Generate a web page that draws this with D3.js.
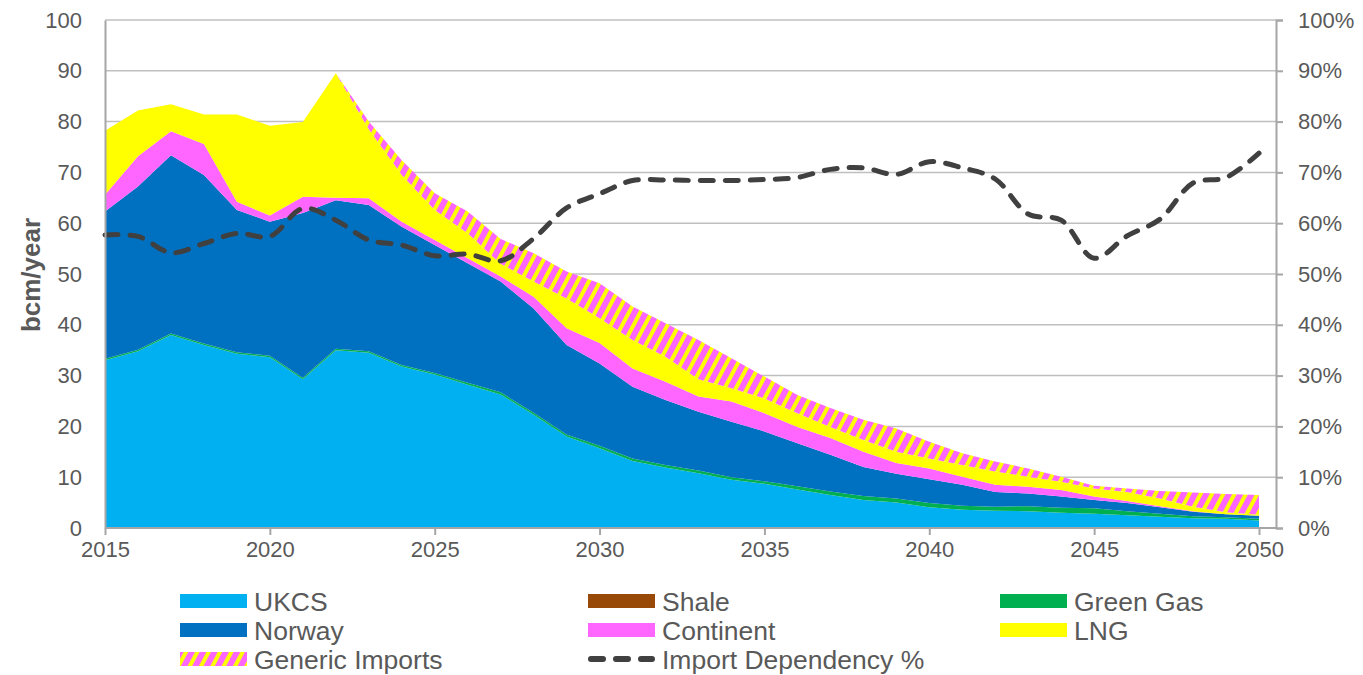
<!DOCTYPE html>
<html>
<head>
<meta charset="utf-8">
<script src="https://cdn.jsdelivr.net/npm/d3@7"></script>
<style>
  body { margin: 0; background: #fff; }
  svg { display: block; }
  text { font-family: "Liberation Sans", Arial, sans-serif; fill: #595959; }
</style>
</head>
<body>
<svg id="chart" width="1363" height="675"></svg>
<script>
// Gas supply by source (bcm/year) and import dependency (%), 2015-2050
const years = [2015, 2016, 2017, 2018, 2019, 2020, 2021, 2022, 2023, 2024,
               2025, 2026, 2027, 2028, 2029, 2030, 2031, 2032, 2033, 2034,
               2035, 2036, 2037, 2038, 2039, 2040, 2041, 2042, 2043, 2044,
               2045, 2046, 2047, 2048, 2049, 2050];

const ukcs = [33.0, 34.8, 38.0, 36.0, 34.3, 33.6, 29.3, 35.0, 34.5, 31.8,
              30.2, 28.2, 26.3, 22.3, 18.0, 15.7, 13.2, 11.9, 10.8, 9.5,
              8.7, 7.6, 6.5, 5.5, 5.0, 4.1, 3.6, 3.4, 3.3, 3.0,
              2.8, 2.5, 2.2, 1.9, 1.8, 1.5];
const shale = [0, 0, 0, 0, 0, 0, 0, 0, 0, 0,
               0, 0, 0, 0, 0, 0, 0, 0, 0, 0,
               0, 0, 0, 0, 0, 0, 0, 0, 0, 0,
               0, 0, 0, 0, 0, 0];
const greenGas = [0.3, 0.3, 0.3, 0.3, 0.3, 0.3, 0.3, 0.3, 0.3, 0.3,
                  0.3, 0.4, 0.4, 0.4, 0.4, 0.5, 0.5, 0.5, 0.5, 0.5,
                  0.5, 0.6, 0.7, 0.8, 0.8, 0.8, 0.8, 0.8, 1.0, 1.0,
                  1.1, 0.8, 0.6, 0.4, 0.3, 0.3];
const norway = [29.0, 32.1, 35.1, 33.2, 28.0, 26.4, 32.4, 29.2, 28.8, 27.2,
                25.2, 23.5, 21.8, 20.5, 17.6, 16.2, 14.1, 12.8, 11.6, 10.9,
                9.8, 8.5, 7.2, 5.7, 4.9, 4.7, 4.1, 2.9, 2.5, 2.2,
                1.6, 1.6, 1.3, 0.9, 0.6, 0.6];
const continent = [3.3, 6.0, 4.7, 6.1, 1.6, 1.2, 3.2, 0.5, 1.3, 1.0,
                   1.0, 1.0, 1.0, 2.3, 3.3, 4.0, 3.6, 3.6, 3.0, 4.0,
                   3.6, 3.2, 3.3, 3.0, 2.1, 2.1, 1.6, 1.4, 1.3, 1.3,
                   0.7, 0.4, 0.2, 0.1, 0, 0];
const lng = [12.6, 9.0, 5.3, 5.8, 17.2, 17.7, 14.7, 24.5, 13.6, 9.2,
             5.9, 4.9, 2.5, 3.0, 5.9, 4.9, 5.6, 4.9, 3.4, 2.6,
             2.9, 2.7, 2.2, 2.3, 2.2, 2.0, 2.3, 2.6, 2.0, 1.6,
             1.6, 1.8, 1.5, 0.9, 0.4, 0.2];
const genericImports = [0, 0, 0, 0, 0, 0, 0, 0, 1.5, 2.9,
                        3.3, 4.3, 4.9, 5.6, 5.3, 6.9, 6.6, 6.6, 7.7, 5.9,
                        4.3, 3.6, 3.7, 4.0, 4.6, 3.3, 2.3, 2.0, 1.6, 1.0,
                        0.5, 0.7, 1.5, 2.8, 3.6, 3.9];
const importDependency = [57.7, 57.4, 54.2, 56.0, 58.0, 57.4, 62.9, 60.6, 56.7, 55.7,
                          53.6, 53.9, 52.6, 57.0, 63.0, 65.8, 68.4, 68.5, 68.4, 68.4,
                          68.6, 69.0, 70.6, 70.9, 69.6, 72.1, 70.9, 68.7, 61.8, 60.6,
                          53.1, 57.5, 60.8, 67.9, 69.0, 73.8];

const xTicks = [2015, 2020, 2025, 2030, 2035, 2040, 2045, 2050];
const yTicks = [0, 10, 20, 30, 40, 50, 60, 70, 80, 90, 100];
const pctTicks = [0, 10, 20, 30, 40, 50, 60, 70, 80, 90, 100];

const seriesNames = ["UKCS", "Shale", "Green Gas", "Norway", "Continent", "LNG", "Generic Imports"];
const seriesValues = [ukcs, shale, greenGas, norway, continent, lng, genericImports];
const fills = {
  "UKCS": "#00B0F0",
  "Shale": "#984807",
  "Green Gas": "#00B050",
  "Norway": "#0070C0",
  "Continent": "#FF66FF",
  "LNG": "#FFFF00",
  "Generic Imports": "url(#hatch)"
};

const rows = years.map((yr, i) => {
  const r = { year: yr };
  seriesNames.forEach((k, j) => { r[k] = seriesValues[j][i]; });
  return r;
});

const svg = d3.select("#chart");
const plot = { left: 105, right: 1276, top: 20, bottom: 528 };

const x = d3.scaleLinear().domain([2015, 2050]).range([105, 1259]);
const y = d3.scaleLinear().domain([0, 100]).range([plot.bottom, plot.top]);
const yPct = d3.scaleLinear().domain([0, 100]).range([plot.bottom, plot.top]);

// Diagonal pink/yellow hatch for generic imports
const defs = svg.append("defs");
const pat = defs.append("pattern")
  .attr("id", "hatch")
  .attr("patternUnits", "userSpaceOnUse")
  .attr("width", 10).attr("height", 10)
  .attr("patternTransform", "rotate(28)");
pat.append("rect").attr("width", 10).attr("height", 10).attr("fill", "#FF66FF");
pat.append("rect").attr("width", 4).attr("height", 10).attr("fill", "#FFFF00");

// Horizontal gridlines
svg.append("g")
  .selectAll("line")
  .data(yTicks.filter(d => d > 0))
  .join("line")
  .attr("x1", plot.left).attr("x2", plot.right)
  .attr("y1", d => y(d)).attr("y2", d => y(d))
  .attr("stroke", "#BFBFBF").attr("stroke-width", 1.5);

// Stacked areas
const stack = d3.stack().keys(seriesNames);
const layers = stack(rows);
const area = d3.area()
  .x(d => x(d.data.year))
  .y0(d => y(d[0]))
  .y1(d => y(d[1]));

svg.append("g")
  .selectAll("path")
  .data(layers)
  .join("path")
  .attr("d", area)
  .attr("fill", d => fills[d.key]);

// Import dependency line on the right-hand axis
const depLine = d3.line()
  .x((d, i) => x(years[i]))
  .y(d => yPct(d))
  .curve(d3.curveCatmullRom.alpha(0.5));

svg.append("path")
  .datum(importDependency)
  .attr("d", depLine)
  .attr("fill", "none")
  .attr("stroke", "#404040")
  .attr("stroke-width", 5)
  .attr("stroke-linecap", "round")
  .attr("stroke-dasharray", "13,12");

// Axes
const axisColor = "#A6A6A6";

const gx = svg.append("g")
  .attr("transform", `translate(0,${plot.bottom})`)
  .call(d3.axisBottom(x).tickValues(xTicks).tickSize(7).tickPadding(6).tickFormat(d3.format("d")));
gx.select(".domain").attr("d", `M${plot.left},0H${plot.right}`);

const gy = svg.append("g")
  .attr("transform", `translate(${plot.left},0)`)
  .call(d3.axisLeft(y).tickValues(yTicks).tickSize(0).tickPadding(23));

const gr = svg.append("g")
  .attr("transform", `translate(${plot.right},0)`)
  .call(d3.axisRight(yPct).tickValues(pctTicks).tickSize(7).tickPadding(15).tickFormat(d => d + "%"));

[gx, gy, gr].forEach(g => {
  g.select(".domain").attr("stroke", axisColor).attr("stroke-width", 2);
  g.selectAll(".tick line").attr("stroke", axisColor).attr("stroke-width", 2);
  g.selectAll(".tick text")
    .attr("fill", "#595959")
    .style("font-size", "22px")
    .style("font-family", "'Liberation Sans', Arial, sans-serif");
});

// Left axis title
svg.append("text")
  .attr("transform", "translate(40,275) rotate(-90)")
  .attr("text-anchor", "middle")
  .style("font-size", "26px")
  .style("font-weight", "bold")
  .text("bcm/year");

// Legend
const legendItems = [
  { name: "UKCS", col: 0, row: 0 },
  { name: "Shale", col: 1, row: 0 },
  { name: "Green Gas", col: 2, row: 0 },
  { name: "Norway", col: 0, row: 1 },
  { name: "Continent", col: 1, row: 1 },
  { name: "LNG", col: 2, row: 1 },
  { name: "Generic Imports", col: 0, row: 2 },
  { name: "Import Dependency %", col: 1, row: 2, line: true }
];
const colX = [180, 588, 1000];
const rowY = [601, 630, 659];

const lg = svg.append("g");
legendItems.forEach(it => {
  const gx0 = colX[it.col], gy0 = rowY[it.row];
  const g = lg.append("g").attr("transform", `translate(${gx0},${gy0})`);
  if (it.line) {
    g.append("line")
      .attr("x1", 3).attr("x2", 64).attr("y1", 0).attr("y2", 0)
      .attr("stroke", "#404040").attr("stroke-width", 6)
      .attr("stroke-linecap", "round")
      .attr("stroke-dasharray", "12,13");
  } else {
    g.append("rect")
      .attr("x", 0).attr("y", -7)
      .attr("width", 67).attr("height", 14)
      .attr("fill", fills[it.name]);
  }
  g.append("text")
    .attr("x", 74).attr("y", 0)
    .attr("dy", "0.36em")
    .style("font-size", "26.5px")
    .text(it.name);
});
</script>
</body>
</html>
